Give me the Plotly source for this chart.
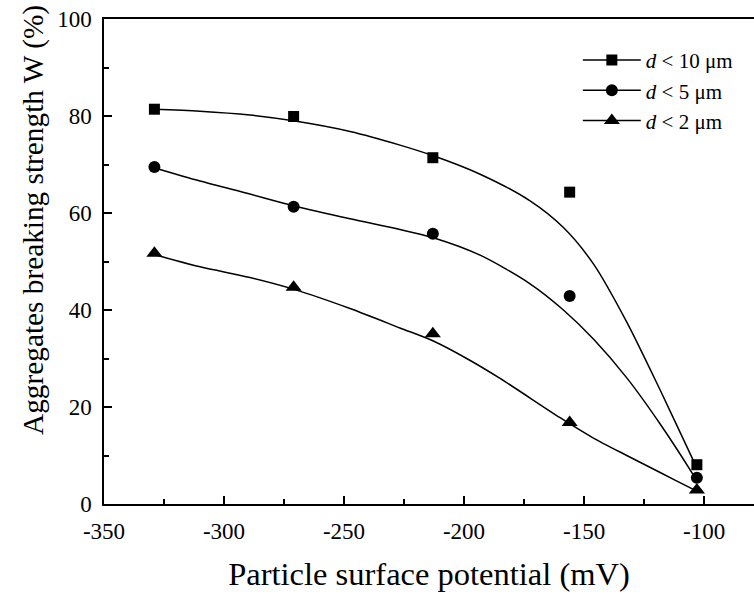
import plotly.graph_objects as go

# Measured data points
potential_mv = [-329, -271, -213, -156, -103]
w_d10 = [81.4, 79.9, 71.4, 64.3, 8.1]
w_d5 = [69.5, 61.3, 55.7, 42.9, 5.4]
w_d2 = [51.7, 44.7, 35.1, 16.8, 2.9]

# Fitted curves
fit10_x = [-329.5, -310, -289.2, -271.1, -247.5, -226.7, -212.8, -193.3, -172.5, -158.6, -146.1, -132.2, -118.3, -104.5, -103.3]
fit10_y = [81.4, 81.0, 80.2, 79.0, 76.8, 74.0, 71.8, 68.0, 62.5, 57.0, 49.5, 37.5, 23.5, 9.0, 7.8]
fit5_x = [-329.5, -310, -289.2, -271.1, -247.5, -226.7, -212.8, -193.3, -172.5, -158.6, -146.1, -132.2, -118.3, -104.5, -103.3]
fit5_y = [69.4, 66.6, 63.9, 61.5, 58.8, 56.6, 54.9, 51.3, 45.4, 40.0, 34.0, 26.0, 16.5, 6.0, 5.0]
fit2_x = [-329.5, -310, -289.2, -271.1, -247.5, -226.7, -212.8, -198.9, -185, -160, -146.1, -132.2, -118.3, -104.5, -103.3]
fit2_y = [51.5, 48.9, 46.7, 44.3, 40.3, 36.3, 33.6, 30.0, 25.9, 17.8, 13.6, 10.0, 6.5, 3.0, 2.7]

series_names = ["<i>d</i> < 10 μm", "<i>d</i> < 5 μm", "<i>d</i> < 2 μm"]
x_tick_vals = [-350, -300, -250, -200, -150, -100]
x_tick_text = ["-350", "-300", "-250", "-200", "-150", "-100"]
y_tick_vals = [0, 20, 40, 60, 80, 100]
y_tick_text = ["0", "20", "40", "60", "80", "100"]

FONT = "Liberation Serif"
symbols = ["square", "circle", "triangle-up"]
sizes = [11, 12, 14]
values = [w_d10, w_d5, w_d2]
fits = [(fit10_x, fit10_y), (fit5_x, fit5_y), (fit2_x, fit2_y)]

fig = go.Figure()
for i in range(3):
    fx, fy = fits[i]
    fig.add_trace(go.Scatter(x=fx, y=fy, mode="lines",
                             line=dict(color="black", width=1.5, shape="spline", smoothing=0.8),
                             showlegend=False, hoverinfo="skip"))
    fig.add_trace(go.Scatter(x=potential_mv, y=values[i], mode="markers",
                             marker=dict(symbol=symbols[i], size=sizes[i], color="black"),
                             showlegend=False))
for i in range(3):
    fig.add_trace(go.Scatter(x=[None], y=[None], mode="lines+markers", name=series_names[i],
                             line=dict(color="black", width=1.5),
                             marker=dict(symbol=symbols[i], size=sizes[i], color="black")))

axis_common = dict(showline=True, linecolor="black", linewidth=1.5, ticks="inside",
                   ticklen=8, tickwidth=1.5, tickcolor="black", showgrid=False, zeroline=False,
                   automargin=False,
                   tickfont=dict(family=FONT, size=23, color="black"))

fig.update_layout(
    width=754, height=592,
    margin=dict(l=104, r=0, t=19, b=88),
    plot_bgcolor="white", paper_bgcolor="white",
    font=dict(family=FONT, color="black"),
    xaxis=dict(range=[-350, -79.2], tickvals=x_tick_vals, ticktext=x_tick_text, mirror=True,
               ticklabelstandoff=6,
               minor=dict(dtick=25, ticklen=5, tickwidth=1.5, tickcolor="black", ticks="inside"),
               title=dict(text="Particle surface potential (mV)", font=dict(family=FONT, size=32.5), standoff=20),
               **axis_common),
    yaxis=dict(range=[0, 100], tickvals=y_tick_vals, ticktext=y_tick_text, mirror=False,
               ticklabelstandoff=6,
               minor=dict(dtick=10, ticklen=5, tickwidth=1.5, tickcolor="black", ticks="inside"),
               **axis_common),
    legend=dict(x=0.729, y=0.957, xanchor="left", yanchor="top", bgcolor="rgba(0,0,0,0)",
                font=dict(family=FONT, size=21, color="black"), itemwidth=58),
    annotations=[dict(text="Aggregates breaking strength W (%)", textangle=-90,
                      xref="paper", yref="paper", x=(34 - 104) / 650, y=0.5856,
                      xanchor="center", yanchor="middle",
                      showarrow=False, font=dict(family=FONT, size=29.3, color="black"))],
)

fig.write_html("out.html", config={"displayModeBar": False},
               post_script="document.body.style.margin='0';document.body.style.overflow='hidden';")
